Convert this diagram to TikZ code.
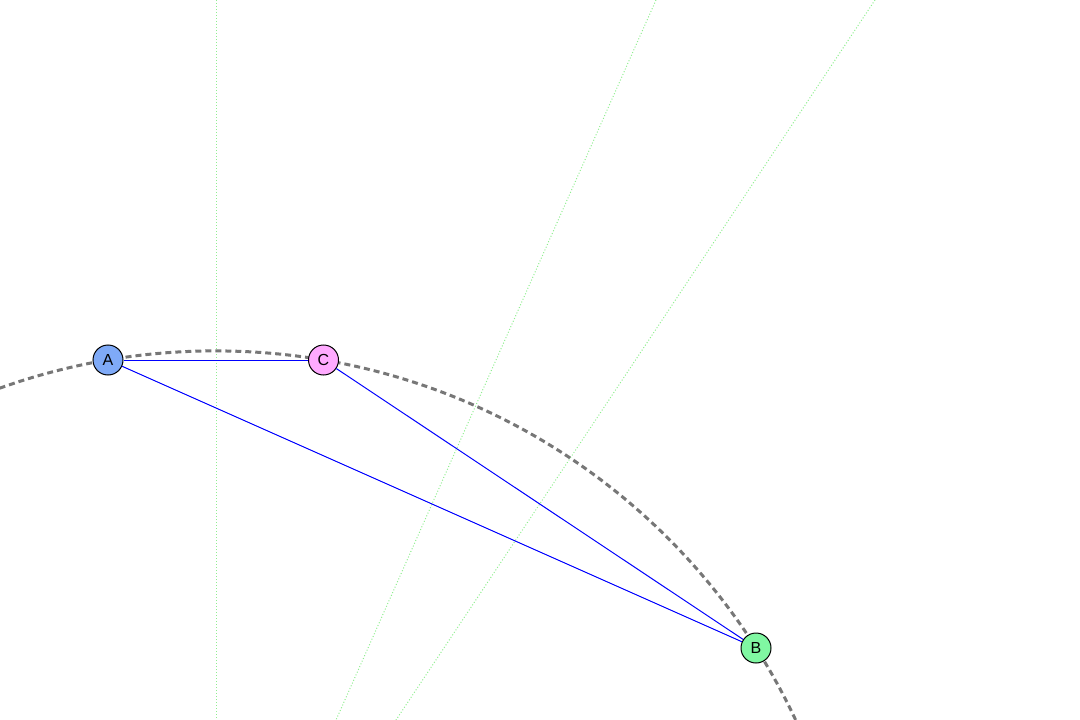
\documentclass[tikz,border=0pt]{standalone}
\usepackage{fontspec}
\setmainfont{Liberation Sans}
\definecolor{ptA}{HTML}{7FAAF7}
\definecolor{ptB}{HTML}{80F7A2}
\definecolor{ptC}{HTML}{FFAAFF}
\definecolor{bisect}{HTML}{90EE90}
\definecolor{circum}{HTML}{777777}
\tikzset{
    pt/.style={circle, draw=black, line width=0.75pt, minimum size=22.5pt, inner sep=0pt, font=\fontsize{12}{14}\selectfont},
    side/.style={draw=blue, line width=0.75pt},
    bis/.style={draw=bisect, line width=0.75pt, dash pattern=on 0.75pt off 1.5pt}
}
\begin{document}
\begin{tikzpicture}[x=0.75pt, y=-0.75pt]
    \useasboundingbox (0,0) rectangle (1080,720);
    \clip (0,0) rectangle (1080,720);
    % perpendicular bisectors
    \draw[bis] (216,0) -- (216,720);
    \draw[bis] (656,0) -- (336,720);
    \draw[bis] (875,0) -- (396,720);
    % circumcircle
    \draw[circum, line width=2.25pt, dash pattern=on 4.5pt off 3pt] (215.5,991.1) circle[radius=480.15pt];
    \node[pt, fill=ptA] (A) at (108,360) {\raisebox{-1pt}{A}};
    \node[pt, fill=ptC] (C) at (323.5,360) {\raisebox{-1pt}{C}};
    \node[pt, fill=ptB] (B) at (756,648) {\raisebox{-1pt}{B}};
    \draw[side] (A) -- (C);
    \draw[side] (A) -- (B);
    \draw[side] (C) -- (B);
\end{tikzpicture}
\end{document}
